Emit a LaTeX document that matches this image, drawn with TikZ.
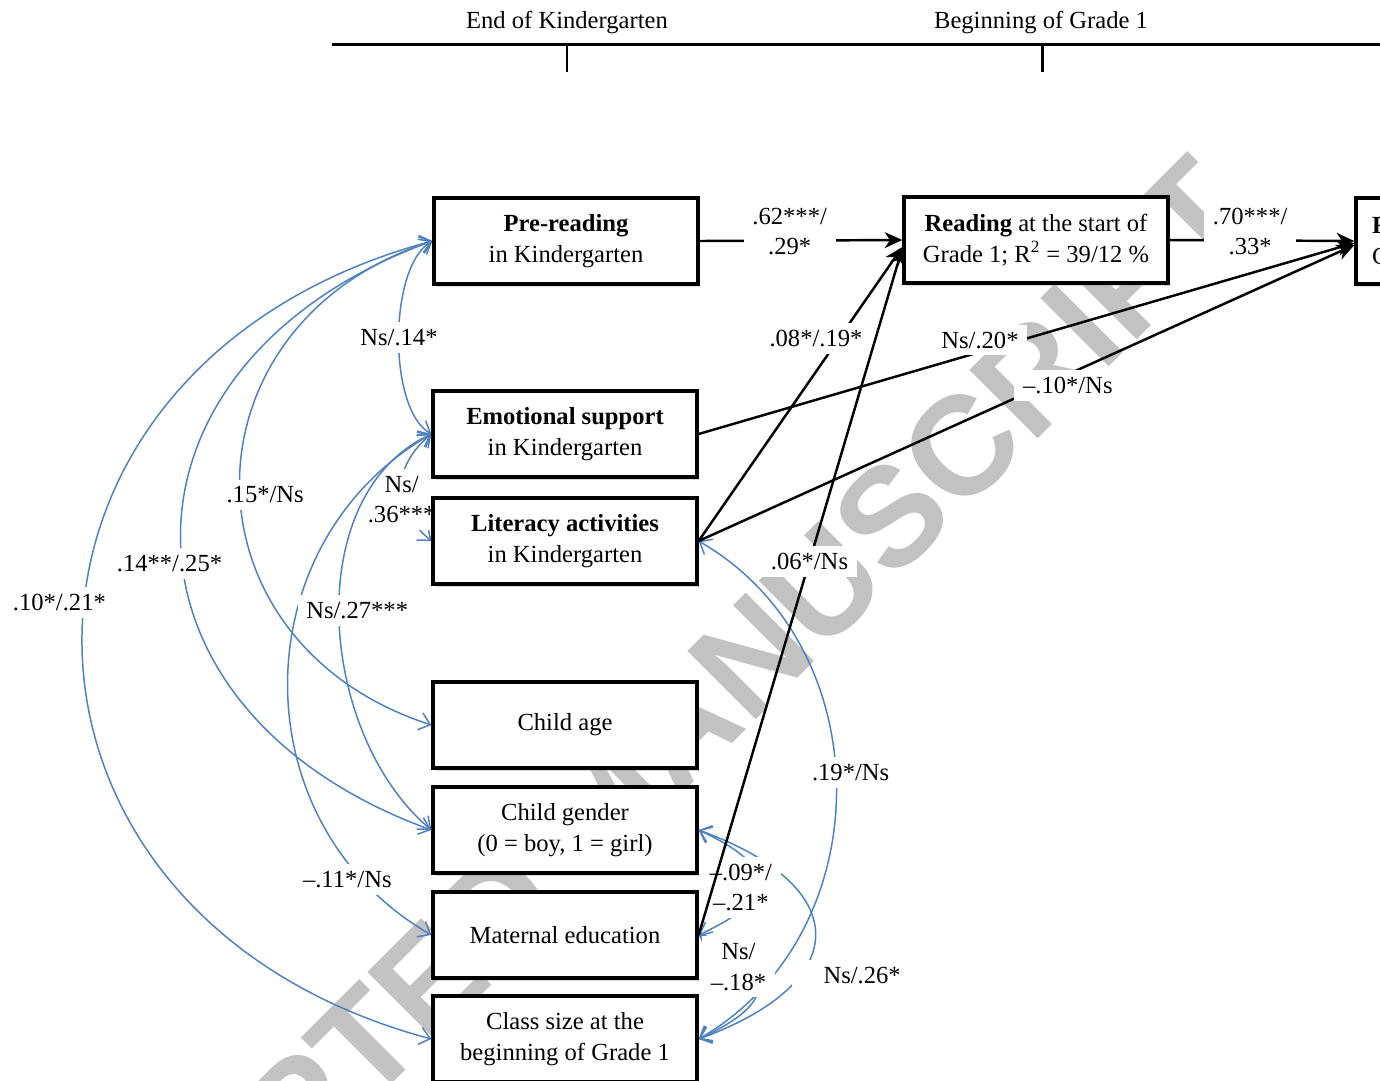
\documentclass[tikz,border=0pt]{standalone}
\usepackage{fontspec}
\setmainfont{Liberation Serif}
\newfontfamily\wmfont{Liberation Sans}
\usetikzlibrary{arrows.meta,shadows}
\definecolor{covblue}{RGB}{79,129,189}
\pgfdeclarelayer{wmark}
\pgfdeclarelayer{links}
\pgfsetlayers{wmark,links,main}

\begin{document}
\begin{tikzpicture}[
    x=0.02cm, y=-0.02cm,
    font=\fontsize{14}{17.5}\selectfont,
    box/.style={draw, line width=1.9pt, fill=white, minimum width=5.28cm,
      minimum height=1.72cm, inner sep=0pt, align=center,
      drop shadow={shadow xshift=0.05cm, shadow yshift=-0.05cm, opacity=0.3}},
    effect/.style={draw, line width=1.4pt, -{Stealth[length=10pt,width=9pt,inset=3pt]}},
    cov/.style={draw=covblue, line width=0.85pt,
      {Straight Barb[length=6pt,width=10pt]}-{Straight Barb[length=6pt,width=10pt]}},
    lbl/.style={fill=white, inner xsep=5pt, inner ysep=4pt, align=center},
]
\useasboundingbox (0,0) rectangle (1380,1080);

% Time line
\node (eok) at (567,22) {End of Kindergarten};
\node (bog) at (1041,22) {Beginning of Grade 1};
\draw[line width=1.7pt] (332,44) -- (1380,44);
\draw[line width=1.7pt] (567,44) -- (567,72);
\draw[line width=1.7pt] (1042,44) -- (1042,72);

% Watermark
\begin{pgfonlayer}{wmark}
\node[rotate=45, text=black!24, font=\wmfont\bfseries\fontsize{80}{80}\selectfont] (wm) at (605,803) {ACCEPTED MANUSCRIPT};
\end{pgfonlayer}

% Measures
\node[box] (prek) at (566,241) {\textbf{Pre-reading}\\in Kindergarten};
\node[box] (emosup) at (565,434) {\textbf{Emotional support}\\in Kindergarten};
\node[box] (litact) at (565,541) {\textbf{Literacy activities}\\in Kindergarten};
\node[box] (cage) at (565,725) {Child age};
\node[box] (cgender) at (565,830) {Child gender\\(0 = boy,  1 = girl)};
\node[box] (matedu) at (565,935) {Maternal education};
\node[box] (clsize) at (565,1039) {Class size at the\\beginning of Grade 1};
\node[box] (readg1) at (1036,240) {\textbf{Reading} at the start of\\Grade 1; R\textsuperscript{2} = 39/12 \%};
\node[box, align=left, text width=4.64cm, inner xsep=0.32cm] (readend) at (1488,241) {\textbf{R}\\G};

\begin{pgfonlayer}{links}
% Correlations
\draw[cov] (prek.west) to[out=210, in=150, looseness=0.67] node[lbl] {Ns/.14*} (emosup.west);
\draw[cov] (prek.west) to[out=198, in=162, looseness=1.42] node[lbl, pos=0.52, xshift=0.5cm] {.15*/Ns} (cage.west);
\draw[cov] (prek.west) to[out=200, in=160, looseness=1.55] node[lbl, pos=0.54, xshift=-0.26cm] {.14**/.25*} (cgender.west);
\draw[cov] (prek.west) to[out=195, in=165, looseness=1.55] node[lbl, pos=0.463, xshift=-0.5cm] {.10*/.21*} (clsize.west);
\draw[cov] (emosup.west) to[out=220, in=140, looseness=1.24] node[lbl, inner xsep=2pt, yshift=-0.24cm] {Ns/\\.36***} (litact.west);
\draw[cov] (emosup.west) to[out=210, in=150, looseness=1.13] node[lbl, pos=0.86, xshift=-0.3cm] {–.11*/Ns} (matedu.west);
\draw[cov] (emosup.west) to[out=205, in=140, looseness=0.95] node[lbl, pos=0.48, xshift=0.36cm] {Ns/.27***} (cgender.west);
\draw[cov] (litact.east) to[out=-30, in=30, looseness=1.09] node[lbl, pos=0.47, xshift=0.3cm] {.19*/Ns} (clsize.east);
\draw[cov] (cgender.east) to[out=-20, in=20, looseness=2.03] node[lbl, pos=0.68, xshift=1.24cm, minimum width=2.8cm] {Ns/.26*} (clsize.east);
\draw[cov] (cgender.east) to[out=-25, in=25, looseness=2.15] node[lbl, pos=0.55, xshift=-0.34cm] {–.09*/\\–.21*} (matedu.east);
\draw[cov] (matedu.east) to[out=-25, in=25, looseness=2.15] node[lbl, pos=0.3, xshift=-0.2cm] {Ns/\\–.18*} (clsize.east);

% Effects
\draw[effect] (prek.east) -- node[lbl, pos=0.444, yshift=0.18cm] {.62***/\\.29*} (readg1.west);
\draw[effect] (readg1.east) -- node[lbl, pos=0.436, yshift=0.18cm] {.70***/\\.33*} (readend.west);
\draw[effect] (emosup.east) -- node[lbl, pos=0.429, yshift=0.24cm] {Ns/.20*} ([yshift=-0.04cm]readend.west);
\draw[effect] (litact.east) -- node[lbl, pos=0.563, yshift=-0.22cm] {–.10*/Ns} ([yshift=-0.08cm]readend.west);
\draw[effect] (litact.east) -- node[lbl, pos=0.689, xshift=-0.46cm] {.08*/.19*} ([yshift=-0.14cm]readg1.west);
\draw[effect] (matedu.east) -- node[lbl, pos=0.544] {.06*/Ns} ([yshift=-0.16cm]readg1.west);
\end{pgfonlayer}

\end{tikzpicture}
\end{document}
